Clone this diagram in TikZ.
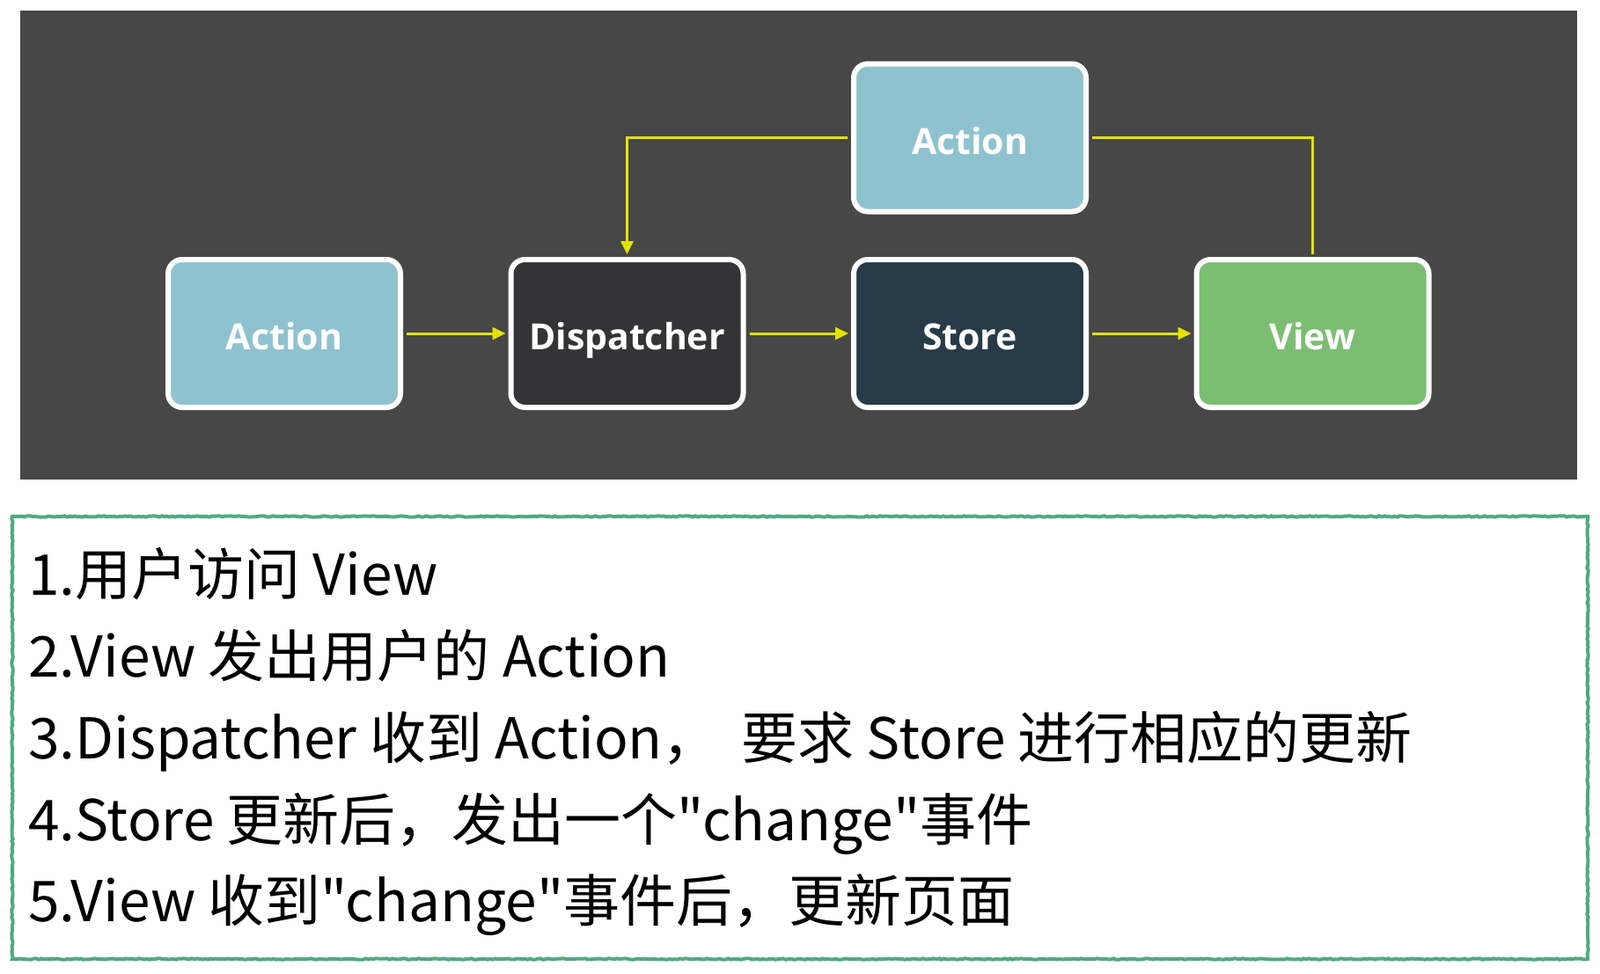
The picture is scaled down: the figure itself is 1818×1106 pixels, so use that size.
\documentclass[tikz,border=0pt]{standalone}
\usepackage{fontspec}
\usetikzlibrary{arrows.meta,decorations.pathmorphing}
\newfontfamily\boxfont{Open Sans}
\newfontfamily\cjk{Noto Sans CJK SC}
\definecolor{panel}{HTML}{474747}
\definecolor{actfill}{HTML}{8FC2CF}
\definecolor{dispfill}{HTML}{343335}
\definecolor{storefill}{HTML}{263B47}
\definecolor{viewfill}{HTML}{7BBE72}
\definecolor{arrowyellow}{HTML}{E4E300}
\definecolor{framegreen}{HTML}{4FAA82}
\tikzset{
  flowbox/.style={rectangle, rounded corners=16pt, draw=white, line width=6pt,
    minimum width=264pt, minimum height=168pt, text=white,
    text height=40pt, text depth=3pt,
    font=\boxfont\bfseries\fontsize{41}{48}\selectfont},
  conn/.style={draw=arrowyellow, line width=3pt},
  arr/.style={conn, -{Triangle[length=15pt,width=14pt]}, shorten >=3pt},
  txt/.style={font=\cjk\fontsize{64}{76}\selectfont, text=black, inner sep=0pt}
}
\begin{document}
\begin{tikzpicture}[x=1pt,y=-1pt]
\useasboundingbox (0,0) rectangle (1818,1106);
\fill[white] (0,0) rectangle (1818,1106);
\fill[panel] (23,12) rectangle (1792,545);

\node[flowbox, fill=actfill] (act1) at (323,379) {Action};
\node[flowbox, fill=dispfill] (disp) at (712.5,379) {Dispatcher};
\node[flowbox, fill=storefill] (store) at (1102,379) {Store};
\node[flowbox, fill=viewfill] (view) at (1491.5,379) {View};
\node[flowbox, fill=actfill] (act2) at (1102,156.5) {Action};

\draw[arr, shorten <=4pt] (act1.east) -- (disp.west);
\draw[arr, shorten <=4pt] (disp.east) -- (store.west);
\draw[arr, shorten <=4pt] (store.east) -- (view.west);
\draw[arr, shorten <=4pt] (act2.west) -- (disp.north |- act2.west) -- (disp.north);
\draw[conn, shorten <=4pt, shorten >=3pt] (act2.east) -- (view.north |- act2.east) -- (view.north);

\draw[framegreen, line width=4pt, decorate, decoration={random steps, segment length=3pt, amplitude=0.7pt}]
  (14,587) rectangle (1804,1090);

\node[txt, anchor=base west] (l1) at (32,676) {1.用户访问 View};
\node[txt, anchor=base west] (l2) at (32,769) {2.View 发出用户的 Action};
\node[txt, anchor=base west] (l3) at (32,862) {3.Dispatcher 收到 Action，\hspace{0.4em}要求 Store 进行相应的更新};
\node[txt, anchor=base west] (l4) at (32,955) {4.Store 更新后，发出一个"change"事件};
\node[txt, anchor=base west] (l5) at (32,1047) {5.View 收到"change"事件后，更新页面};
\end{tikzpicture}
\end{document}
